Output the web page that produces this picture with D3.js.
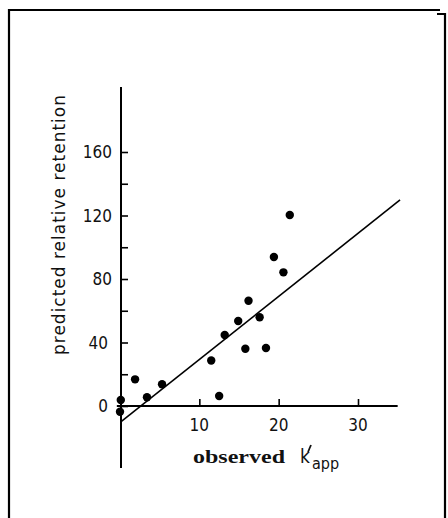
<!DOCTYPE html>
<html>
<head>
<meta charset="utf-8">
<script src="https://cdn.jsdelivr.net/npm/d3@7"></script>
<style>
  body { margin: 0; background: #fff; }
  svg { display: block; }
  .tick-label { font-family: "DejaVu Sans Condensed", "DejaVu Sans", sans-serif; font-size: 17px; fill: #111; }
</style>
</head>
<body>
<div id="chart"></div>
<script>
// observed k'app vs predicted relative retention
const observed = [0.1, 0.0, 1.9, 3.4, 5.3, 11.5, 12.5, 13.2, 14.9, 15.8, 16.2, 17.6, 18.4, 19.4, 20.6, 21.4];
const predicted = [3.8, -3.6, 16.8, 5.5, 13.7, 28.7, 6.3, 44.7, 53.5, 36.1, 66.3, 55.9, 36.5, 93.9, 84.2, 120.3];
const fitLine = [[0.1, -10], [35.3, 129.8]];
const xTicks = [10, 20, 30];
const yTicks = [0, 20, 40, 60, 80, 100, 120, 140, 160];
const yLabels = [0, 40, 80, 120, 160];

const W = 448, H = 518;

const svg = d3.select("#chart")
  .append("svg")
  .attr("width", W)
  .attr("height", H);

// frame
svg.append("path")
  .attr("d", "M9,518 L9,10 L440,10")
  .attr("fill", "none")
  .attr("stroke", "#000")
  .attr("stroke-width", 2.2);
svg.append("path")
  .attr("d", "M437,14 L445,14 L445,518")
  .attr("fill", "none")
  .attr("stroke", "#000")
  .attr("stroke-width", 2.2);

const x = d3.scaleLinear().domain([0, 30]).range([120, 358]);
const y = d3.scaleLinear().domain([0, 160]).range([406, 152]);

// y axis: line + inward ticks
const yAxis = d3.axisRight(y)
  .tickValues(yTicks)
  .tickSize(7)
  .tickFormat("");
const gy = svg.append("g")
  .attr("transform", `translate(${x(0) + 1},0)`)
  .call(yAxis);
gy.select(".domain").remove();
gy.selectAll(".tick line").attr("stroke", "#000").attr("stroke-width", 1.6);
svg.append("line")
  .attr("x1", x(0) + 1).attr("x2", x(0) + 1)
  .attr("y1", y(201)).attr("y2", y(-39))
  .attr("stroke", "#000")
  .attr("stroke-width", 2);

svg.selectAll(".ylab")
  .data(yLabels)
  .enter()
  .append("text")
  .attr("class", "tick-label")
  .attr("x", d => d < 80 ? x(0) - 12 : x(0) - 8)
  .attr("y", d => y(d) + 6)
  .attr("text-anchor", "end")
  .text(d => d);

// x axis: line + upward ticks
const xAxis = d3.axisTop(x)
  .tickValues(xTicks)
  .tickSize(7)
  .tickFormat("");
const gx = svg.append("g")
  .attr("transform", `translate(0,${y(0)})`)
  .call(xAxis);
gx.select(".domain").remove();
gx.selectAll(".tick line").attr("stroke", "#000").attr("stroke-width", 1.6);
svg.append("line")
  .attr("x1", x(-0.4)).attr("x2", x(35))
  .attr("y1", y(0)).attr("y2", y(0))
  .attr("stroke", "#000")
  .attr("stroke-width", 2);

svg.selectAll(".xlab")
  .data(xTicks)
  .enter()
  .append("text")
  .attr("class", "tick-label")
  .attr("x", d => x(d))
  .attr("y", y(0) + 25)
  .attr("text-anchor", "middle")
  .text(d => d);

// fitted line
svg.append("line")
  .attr("x1", x(fitLine[0][0])).attr("y1", y(fitLine[0][1]))
  .attr("x2", x(fitLine[1][0])).attr("y2", y(fitLine[1][1]))
  .attr("stroke", "#000")
  .attr("stroke-width", 1.6);

// points
svg.selectAll(".pt")
  .data(observed.map((d, i) => [d, predicted[i]]))
  .enter()
  .append("circle")
  .attr("class", "pt")
  .attr("cx", d => x(d[0]))
  .attr("cy", d => y(d[1]))
  .attr("r", 4.2)
  .attr("fill", "#000");

// y axis title
svg.append("text")
  .attr("transform", "translate(65,225) rotate(-90)")
  .attr("text-anchor", "middle")
  .attr("font-family", "DejaVu Sans, sans-serif")
  .attr("font-size", 17)
  .attr("fill", "#111")
  .attr("textLength", 260)
  .attr("lengthAdjust", "spacing")
  .text("predicted relative retention");

// x axis title
svg.append("text")
  .attr("x", 193)
  .attr("y", 463)
  .attr("font-family", "Liberation Serif, serif")
  .attr("font-weight", "bold")
  .attr("font-size", 18)
  .attr("fill", "#111")
  .attr("textLength", 92)
  .attr("lengthAdjust", "spacingAndGlyphs")
  .text("observed");

svg.append("text")
  .attr("x", 300)
  .attr("y", 463)
  .attr("font-family", "DejaVu Sans Condensed, DejaVu Sans, sans-serif")
  .attr("font-size", 19)
  .attr("fill", "#111")
  .text("k");
// prime mark on the k
svg.append("path")
  .attr("d", "M311,445 L308,452")
  .attr("stroke", "#111")
  .attr("stroke-width", 1.8);
svg.append("text")
  .attr("x", 312)
  .attr("y", 469)
  .attr("font-family", "DejaVu Sans Condensed, DejaVu Sans, sans-serif")
  .attr("font-size", 16)
  .attr("fill", "#111")
  .text("app");
</script>
</body>
</html>
